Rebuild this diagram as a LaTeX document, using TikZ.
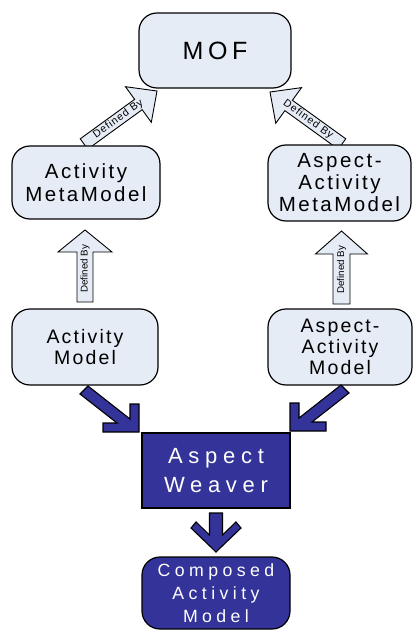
\documentclass[tikz,border=0pt]{standalone}
\usepackage{fontspec}
\setmainfont{Liberation Sans}
\usetikzlibrary{calc}
\definecolor{lightbox}{HTML}{E6ECF6}
\definecolor{darkbox}{HTML}{333399}
\newcommand\harrow[5]{%
  \filldraw[hollowarrow]
    ($(#1)!#3!90:(#2)$) --
    ($($(#2)!#5!(#1)$)!#3!-90:(#1)$) --
    ($($(#2)!#5!(#1)$)!#4!-90:(#1)$) --
    (#2) --
    ($($(#2)!#5!(#1)$)!#4!90:(#1)$) --
    ($($(#2)!#5!(#1)$)!#3!90:(#1)$) --
    ($(#1)!#3!-90:(#2)$) -- cycle;}
\tikzset{
  lbox/.style={draw=black, line width=1.2pt, fill=lightbox, rounded corners=18pt, align=center, text=black, inner sep=0pt},
  dbox/.style={draw=black, line width=1.2pt, fill=darkbox, align=center, text=white, inner sep=0pt},
  hollowarrow/.style={draw=black, line width=0.9pt, fill=lightbox, line join=miter},
  bluearrow/.style={draw=black, line width=1.1pt, fill=darkbox, line join=miter},
  vlabel/.style={font=\fontsize{9.8}{10}\selectfont, inner sep=0pt, sloped},
  dlabel/.style={font=\fontsize{10.5}{11}\selectfont\addfontfeatures{LetterSpace=9}, inner sep=0pt, sloped},
}
\begin{document}
\begin{tikzpicture}[x=1pt,y=-1pt]
\useasboundingbox (0,0) rectangle (414,631);
% hollow "Defined By" arrows
\coordinate (lvT) at (85,302);   \coordinate (lvP) at (85,230);
\coordinate (rvT) at (341.5,304); \coordinate (rvP) at (341.5,231);
\coordinate (ldT) at (84,144);   \coordinate (ldP) at (157,91);
\coordinate (rdT) at (342,144);  \coordinate (rdP) at (270,92);
\harrow{lvT}{lvP}{8pt}{27pt}{22pt}
\harrow{rvT}{rvP}{8.5pt}{26pt}{23pt}
\harrow{ldT}{ldP}{6.4pt}{22pt}{23pt}
\harrow{rdT}{rdP}{6.4pt}{22pt}{23pt}
\path (lvT) -- (lvP) node[vlabel, pos=0.46] {Defined By};
\path (rvT) -- (rvP) node[vlabel, pos=0.47] {Defined By};
\path (ldT) -- (ldP) node[dlabel, pos=0.47] {Defined By};
\path (rdT) -- (rdP) node[dlabel, pos=0.47] {Defined By};
% boxes
\node[lbox, minimum width=152pt, minimum height=75pt,
  font=\fontsize{25}{28}\selectfont\addfontfeatures{LetterSpace=18}] (mof) at (215,50.5) {MOF};
\node[lbox, minimum width=148pt, minimum height=73pt,
  font=\fontsize{20.5}{23}\selectfont\addfontfeatures{LetterSpace=12}] (amm) at (86,182.5) {Activity\\MetaModel};
\node[lbox, minimum width=143pt, minimum height=76pt,
  font=\fontsize{20.5}{22}\selectfont\addfontfeatures{LetterSpace=12}] (aamm) at (339.5,183) {Aspect-\\Activity\\MetaModel};
\node[lbox, minimum width=146pt, minimum height=76pt,
  font=\fontsize{19.5}{21}\selectfont\addfontfeatures{LetterSpace=11}] (am) at (85,347) {Activity\\Model};
\node[lbox, minimum width=144pt, minimum height=76pt,
  font=\fontsize{19.5}{21}\selectfont\addfontfeatures{LetterSpace=11}] (aam) at (340,347) {Aspect-\\Activity\\Model};
\node[dbox, minimum width=148pt, minimum height=75pt,
  font=\fontsize{22}{29}\selectfont\addfontfeatures{LetterSpace=26}] (aw) at (216,470.5) {Aspect\\Weaver};
\node[dbox, rounded corners=18pt, minimum width=148pt, minimum height=72pt,
  font=\fontsize{17.7}{23}\selectfont\addfontfeatures{LetterSpace=25}] (cam) at (216,593) {Composed\\Activity\\Model};
% blue arrows
\filldraw[bluearrow] (80,394) -- (117,423) -- (103,423) -- (103,432) -- (139,432) -- (139,404) -- (130,404) -- (130,419) -- (88,386) -- cycle;
\filldraw[bluearrow] (349,393) -- (312,422) -- (326,422) -- (326,431) -- (290,431) -- (290,403) -- (299,403) -- (299,418) -- (341,385) -- cycle;
\filldraw[bluearrow] (209.5,513) -- (222.5,513) -- (222.5,535) -- (236,522) -- (241,528) -- (216,552) -- (191,528) -- (196,522) -- (209.5,535) -- cycle;
\end{tikzpicture}
\end{document}
